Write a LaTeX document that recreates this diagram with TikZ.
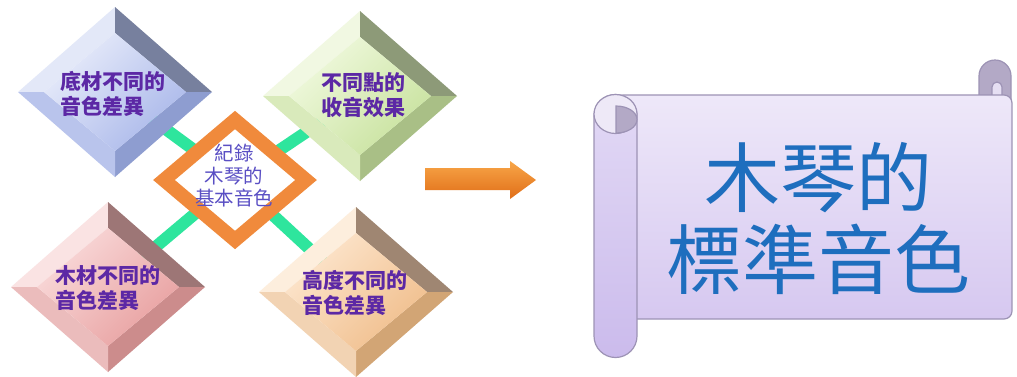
\documentclass[tikz,border=0pt]{standalone}
\usepackage{fontspec}
\newfontfamily\cjk{Noto Sans CJK TC}
\definecolor{conngreen}{HTML}{2EE59D}
\definecolor{ctrorange}{HTML}{F08A3C}
\definecolor{lblpurple}{RGB}{92,40,165}
\definecolor{ctrtext}{HTML}{5A4FC4}
\definecolor{scrolltext}{HTML}{1E6EBE}
\definecolor{scrollline}{HTML}{9D93B5}
\definecolor{bodytop}{HTML}{EEE8F9}
\definecolor{bodybot}{HTML}{D6C8F0}
\definecolor{rolltop}{HTML}{E2D9F5}
\definecolor{rollbot}{HTML}{CBBBEC}
\definecolor{rollend}{HTML}{EEE9F7}
\definecolor{curl}{HTML}{B3A9C6}
\definecolor{curllight}{HTML}{E6DFF3}
\definecolor{arrtop}{HTML}{F8A648}
\definecolor{arrbot}{HTML}{E06E18}
% blue
\definecolor{bTL}{RGB}{227,232,248}\definecolor{bTR}{RGB}{119,128,158}
\definecolor{bBR}{RGB}{142,157,208}\definecolor{bBL}{RGB}{185,196,236}
\definecolor{bF1}{RGB}{232,236,250}\definecolor{bF2}{RGB}{170,184,234}
% green
\definecolor{gTL}{RGB}{241,248,226}\definecolor{gTR}{RGB}{141,154,120}
\definecolor{gBR}{RGB}{169,191,134}\definecolor{gBL}{RGB}{217,234,187}
\definecolor{gF1}{RGB}{240,249,222}\definecolor{gF2}{RGB}{200,226,158}
% pink
\definecolor{pTL}{RGB}{250,227,227}\definecolor{pTR}{RGB}{157,118,118}
\definecolor{pBR}{RGB}{204,140,140}\definecolor{pBL}{RGB}{235,188,188}
\definecolor{pF1}{RGB}{249,218,218}\definecolor{pF2}{RGB}{232,160,160}
% peach
\definecolor{oTL}{RGB}{253,238,221}\definecolor{oTR}{RGB}{159,134,114}
\definecolor{oBR}{RGB}{210,165,117}\definecolor{oBL}{RGB}{242,211,179}
\definecolor{oF1}{RGB}{253,230,206}\definecolor{oF2}{RGB}{240,190,140}
\newcommand\bevdia[3]{%
\begin{scope}[shift={(#1,#2)}]
\fill[#3TL] (-97,0) -- (0,-85) -- (0,-59) -- (-71,0) -- cycle;
\fill[#3TR] (0,-85) -- (97,0) -- (71,0) -- (0,-59) -- cycle;
\fill[#3BR] (97,0) -- (0,85) -- (0,59) -- (71,0) -- cycle;
\fill[#3BL] (0,85) -- (-97,0) -- (-71,0) -- (0,59) -- cycle;
\path[top color=#3F1, bottom color=#3F2, shading angle=45] (0,-59) -- (71,0) -- (0,59) -- (-71,0) -- cycle;
\end{scope}}
\tikzset{
  conn/.style={draw=conngreen, line width=12pt},
  lbl/.style={font=\cjk\bfseries\fontsize{21}{25}\selectfont, text=lblpurple, align=left, inner sep=0pt},
  ctrlbl/.style={font=\cjk\fontsize{19.5}{22.5}\selectfont, text=ctrtext, align=center, inner sep=0pt},
  scrlbl/.style={font=\cjk\fontsize{76}{82}\selectfont, text=scrolltext, align=center, inner sep=0pt},
  scrollpart/.style={draw=scrollline, line width=1.2pt},
}
\begin{document}
\begin{tikzpicture}[x=1pt,y=-1pt]
\useasboundingbox (0,0) rectangle (1017,376);
\fill[white] (0,0) rectangle (1017,376);
% centres
\coordinate (c) at (235,180);
\coordinate (d1) at (115,92);
\coordinate (d2) at (360,96);
\coordinate (d3) at (108,287);
\coordinate (d4) at (356,292);
% connectors
\draw[conn] (c) -- (d1);
\draw[conn] (c) -- (d2);
\draw[conn] (c) -- (d3);
\draw[conn] (c) -- (d4);
% centre diamond
\begin{scope}[shift={(235,180)}]
\draw[draw=ctrorange, line width=14pt, fill=white] (0,-60) -- (71,0) -- (0,60) -- (-71,0) -- cycle;
\end{scope}
\node[ctrlbl] (ct) at (234,176) {紀錄\\木琴的\\基本音色};
% bevelled diamonds
\bevdia{115}{92}{b}
\bevdia{360}{96}{g}
\bevdia{108}{287}{p}
\bevdia{356}{292}{o}
% labels
\node[lbl] (t1) at (113,94) {底材不同的\\音色差異};
\node[lbl] (t2) at (363,95) {不同點的\\收音效果};
\node[lbl] (t3) at (108,288) {木材不同的\\音色差異};
\node[lbl] (t4) at (355,293) {高度不同的\\音色差異};
% arrow
\path[top color=arrtop, bottom color=arrbot] (425,168) -- (510,168) -- (510,161) -- (536,180) -- (510,199) -- (510,190) -- (425,190) -- cycle;
% scroll: right roll (behind body)
\draw[scrollpart, fill=curl, rounded corners=16pt] (979,110) -- (979,60) -- (1011,60) -- (1011,110);
\draw[scrollpart, fill=curllight, rounded corners=5pt] (992,96) -- (992,82) -- (1002,82) -- (1002,96);
% body
\draw[scrollpart, top color=bodytop, bottom color=bodybot, rounded corners=8pt] (615,95) -- (1012,95) -- (1012,319) -- (615,319) -- cycle;
% left roll
\draw[scrollpart, top color=rolltop, bottom color=rollbot, rounded corners=21.5pt] (594,94.5) rectangle (637,357.5);
\draw[scrollpart, fill=rollend] (615.5,114) ellipse [x radius=21.5, y radius=19.5];
\draw[scrollpart, fill=curl] (616,106) arc[start angle=-90, end angle=90, x radius=21, y radius=13.5] -- cycle;
% scroll text
\node[scrlbl] (st) at (818,218) {木琴的\\標準音色};
\end{tikzpicture}
\end{document}
